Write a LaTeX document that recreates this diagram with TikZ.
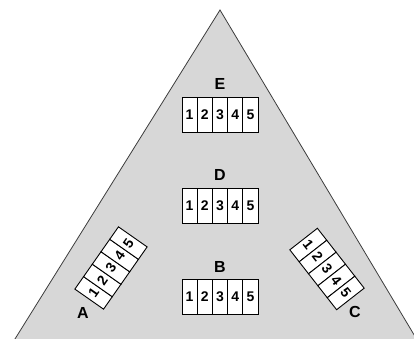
\documentclass[tikz,border=0pt]{standalone}
\usepackage{fontspec}
\setmainfont{Liberation Sans}
\definecolor{panel}{RGB}{215,215,215}
\definecolor{edge}{RGB}{60,60,60}
\tikzset{
  cell/.style={draw=black, line width=0.9pt, fill=white, minimum width=15.2pt,
    minimum height=35pt, inner sep=0pt, font=\fontsize{14}{14}\selectfont\bfseries},
  tag/.style={inner sep=0pt, font=\fontsize{16}{16}\selectfont\bfseries}
}
\begin{document}
\begin{tikzpicture}[x=1pt,y=1pt]
  \useasboundingbox (0,0) rectangle (414,339);
  \begin{scope}
    \clip (0,0) rectangle (414,339);
    % the large triangle, base below the frame
    \coordinate (apex) at (220,329);
    \coordinate (bl) at (2.5,-20);
    \coordinate (br) at (428.5,-20);
    \draw[edge, line width=0.8pt, fill=panel] (apex) -- (bl) -- (br) -- cycle;
  \end{scope}

  % three upright strips of five cells
  \foreach \nm/\cx/\cy in {E/220/224.5, D/220/133, B/220/42}{
    \begin{scope}[shift={(\cx,\cy)}]
      \foreach \i in {1,...,5}
        \node[cell] (\nm\i) at ({(\i-3)*15.2},0) {\i};
    \end{scope}
  }
  \node[tag] (lE) at (220,255) {E};
  \node[tag] (lD) at (220,164) {D};
  \node[tag] (lB) at (220,72) {B};

  % tilted strips near the lower corners
  \begin{scope}[shift={(111,71)}, rotate=55, transform shape]
    \foreach \i in {1,...,5}
      \node[cell] (A\i) at ({(\i-3)*15.2},0) {\i};
  \end{scope}
  \begin{scope}[shift={(327,70)}, rotate=-52, transform shape]
    \foreach \i in {1,...,5}
      \node[cell] (C\i) at ({(\i-3)*15.2},0) {\i};
  \end{scope}
  \node[tag] (lA) at (83,26) {A};
  \node[tag] (lC) at (355,27) {C};
\end{tikzpicture}
\end{document}
